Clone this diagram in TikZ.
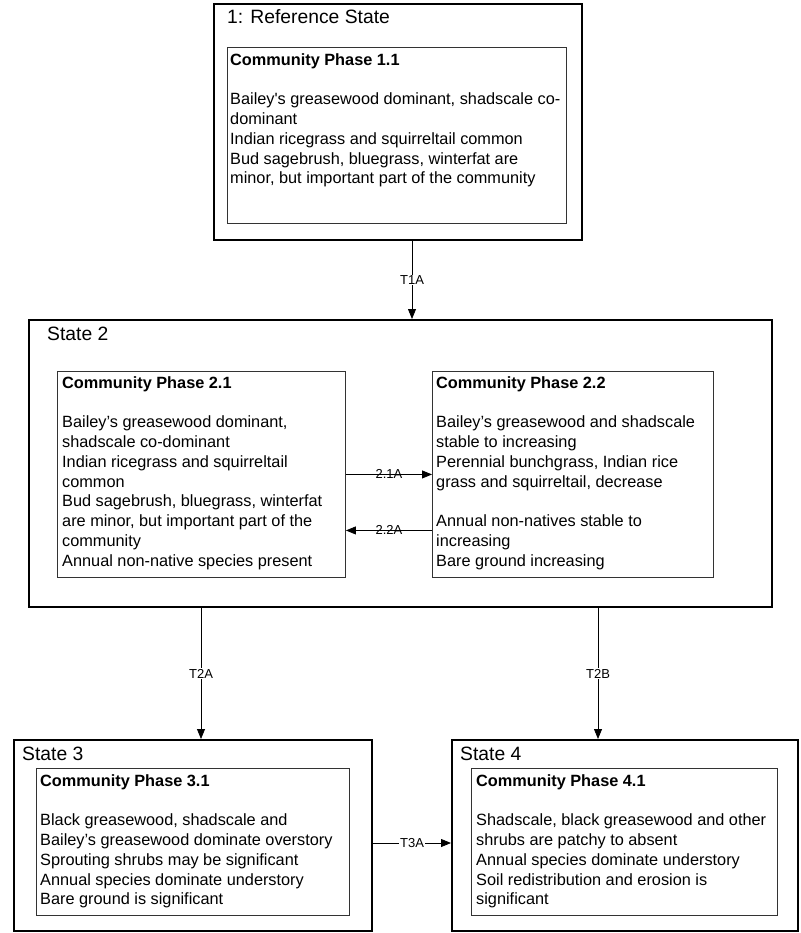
\documentclass[tikz,border=0pt]{standalone}
\usepackage{fontspec}
\setmainfont{Liberation Sans}
\usetikzlibrary{arrows.meta,calc}
\tikzset{
  statebox/.style={draw=black, line width=2pt, anchor=north west, inner sep=0pt},
  phasebox/.style={draw=black!80, line width=0.9pt, anchor=north west, inner sep=0pt},
  statetitle/.style={font=\fontsize{19.3}{22}\selectfont, anchor=west, inner sep=0pt},
  body/.style={font=\fontsize{16.3}{19.8}\selectfont, align=left, inner sep=0pt, anchor=north west},
  arr/.style={line width=0.8pt, -{Triangle[length=10pt,width=8pt]}},
  lbl/.style={font=\fontsize{13}{15}\selectfont, inner sep=1pt},
  lblw/.style={lbl, fill=white}
}
\begin{document}
\begin{tikzpicture}[x=1pt,y=-1pt]
\useasboundingbox (0,0) rectangle (800,933);
\fill[white] (0,0) rectangle (800,933);

% Reference state
\node[statebox, minimum width=368pt, minimum height=236pt] (ref) at (213,3) {};
\node[statetitle] (reft) at (227,17) {1: Reference State};
\node[phasebox, minimum width=339pt, minimum height=176pt] (p11) at (227,47) {};
\node[body] (p11t) at ($(p11.north west)+(3,6)$) {\textbf{Community Phase 1.1}\\[19.8pt]
Bailey\textquotesingle s greasewood dominant, shadscale co-\\
dominant\\
Indian ricegrass and squirreltail common\\
Bud sagebrush, bluegrass, winterfat are\\
minor, but important part of the community};

% State 2
\node[statebox, minimum width=743pt, minimum height=287pt] (s2) at (28,319) {};
\node[statetitle] (s2t) at (47,334) {State 2};
\node[phasebox, minimum width=288pt, minimum height=206pt] (p21) at (57,371) {};
\node[body] (p21t) at ($(p21.north west)+(5,5)$) {\textbf{Community Phase 2.1}\\[19.8pt]
Bailey’s greasewood dominant,\\
shadscale co-dominant\\
Indian ricegrass and squirreltail\\
common\\
Bud sagebrush, bluegrass, winterfat\\
are minor, but important part of the\\
community\\
Annual non-native species present};
\node[phasebox, minimum width=281pt, minimum height=206pt] (p22) at (432,371) {};
\node[body] (p22t) at ($(p22.north west)+(4,5)$) {\textbf{Community Phase 2.2}\\[19.8pt]
Bailey’s greasewood and shadscale\\
stable to increasing\\
Perennial bunchgrass, Indian rice\\
grass and squirreltail, decrease\\[19.8pt]
Annual non-natives stable to\\
increasing\\
Bare ground increasing};

% State 3
\node[statebox, minimum width=358pt, minimum height=191pt] (s3) at (13,739) {};
\node[statetitle] (s3t) at (22,754) {State 3};
\node[phasebox, minimum width=313pt, minimum height=147pt] (p31) at (36,768) {};
\node[body] (p31t) at ($(p31.north west)+(4,6)$) {\textbf{Community Phase 3.1}\\[19.8pt]
Black greasewood, shadscale and\\
Bailey’s greasewood dominate overstory\\
Sprouting shrubs may be significant\\
Annual species dominate understory\\
Bare ground is significant};

% State 4
\node[statebox, minimum width=346pt, minimum height=191pt] (s4) at (451,739) {};
\node[statetitle] (s4t) at (460,754) {State 4};
\node[phasebox, minimum width=306pt, minimum height=147pt] (p41) at (471,768) {};
\node[body] (p41t) at ($(p41.north west)+(5,6)$) {\textbf{Community Phase 4.1}\\[19.8pt]
Shadscale, black greasewood and other\\
shrubs are patchy to absent\\
Annual species dominate understory\\
Soil redistribution and erosion is\\
significant};

% Connectors
\draw[arr] ([xshift=14pt]ref.south) -- ([xshift=14pt]ref.south |- s2.north)
  node[lblw, midway] (t1a) {T1A};
\draw[arr] (p21.east) -- (p22.west)
  node[lbl, midway] (l21a) {2.1A};
\draw[arr] ([yshift=-56pt]p22.west) -- ([yshift=-56pt]p21.east)
  node[lbl, midway] (l22a) {2.2A};
\draw[arr] ([xshift=-199.5pt]s2.south) -- ([xshift=-199.5pt]s2.south |- s3.north)
  node[lblw, midway] (t2a) {T2A};
\draw[arr] ([xshift=197.5pt]s2.south) -- ([xshift=197.5pt]s2.south |- s4.north)
  node[lblw, midway] (t2b) {T2B};
\draw[arr] ([yshift=-7.5pt]s3.east) -- ([yshift=-7.5pt]s3.east -| s4.west)
  node[lblw, midway] (t3a) {T3A};
\end{tikzpicture}
\end{document}
